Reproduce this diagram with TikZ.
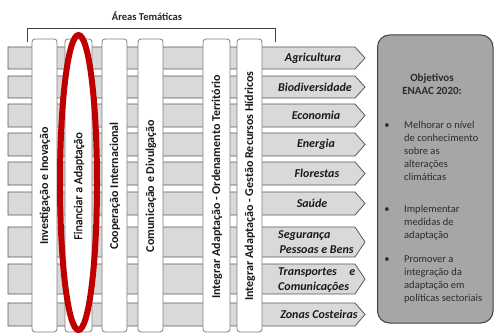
\documentclass[tikz,border=0pt]{standalone}
\usepackage{fontspec}
\setmainfont{Carlito}
\newfontfamily\medfont[FakeBold=1]{Carlito}
\begin{document}
\begin{tikzpicture}[x=1pt,y=-1pt,
  barshape/.style={fill=barfill,draw=bardraw,line width=0.8pt},
  colbox/.style={fill=white,draw=coldraw,line width=0.8pt,rounded corners=3pt},
  coltext/.style={rotate=90,inner sep=0pt,font=\fontsize{12}{14}\selectfont\bfseries,text=black!90},
  arrlabel/.style={inner sep=0pt,font=\fontsize{12}{15}\selectfont\bfseries\itshape,text=black!90},
  objtext/.style={inner sep=0pt,align=left,anchor=north west,font=\fontsize{10.5}{13}\selectfont,text=objcol},
  bulletmark/.style={inner sep=0pt,font=\fontsize{10.5}{13}\selectfont,text=objcol}]
\definecolor{barfill}{HTML}{D9D9D9}
\definecolor{bardraw}{HTML}{595959}
\definecolor{coldraw}{HTML}{7F7F7F}
\definecolor{objfill}{HTML}{A6A6A6}
\definecolor{objcol}{HTML}{2B2B2B}
\definecolor{ringred}{HTML}{C00000}
\useasboundingbox[fill=white] (0,0) rectangle (494,334);
% bracket and title
\draw[line width=0.8pt,draw=black!75] (27,42) -- (27,28) -- (275,28) -- (275,42);
\node[inner sep=0pt,font=\fontsize{10.5}{12}\selectfont\bfseries,text=black!85] (title) at (147,16) {Áreas Temáticas};
% row bars
\foreach \t/\b in {47/69,76/98,104/127,133/156,162/185,192/215,227/257,264/294,303/326}{
  \draw[barshape] (8,\t) -- (355,\t) -- (365,{(\t+\b)/2}) -- (355,\b) -- (8,\b) -- cycle;
}
% columns
\draw[colbox] (32,39) rectangle (57,332);
\draw[colbox] (65,39) rectangle (92,332);
\draw[colbox] (102,39) rectangle (127,332);
\draw[colbox] (138,39) rectangle (163,332);
\draw[colbox] (203,39) rectangle (230,332);
\draw[colbox] (237,39) rectangle (262,332);
\node[coltext] (c1) at (45,186) {Investigação e Inovação};
\node[coltext,font=\fontsize{12}{14}\medfont] (c2) at (79,186) {Financiar a Adaptação};
\node[coltext] (c3) at (115,186) {Cooperação Internacional};
\node[coltext] (c4) at (151,186) {Comunicação e Divulgação};
\node[coltext] (c5) at (217,187) {Integrar Adaptação - Ordenamento Território};
\node[coltext] (c6) at (250,186) {Integrar Adaptação - Gestão Recursos Hídricos};
% arrow labels
\node[arrlabel] (a1) at (313,58) {Agricultura};
\node[arrlabel] (a2) at (315,87) {Biodiversidade};
\node[arrlabel] (a3) at (316,115.5) {Economia};
\node[arrlabel] (a4) at (316,144.5) {Energia};
\node[arrlabel] (a5) at (317,173.5) {Florestas};
\node[arrlabel] (a6) at (312,203.5) {Saúde};
\node[arrlabel,align=left,anchor=west] (a7) at (278,242.5) {Segurança\\\hspace*{1.5pt}Pessoas e Bens};
\node[arrlabel,align=left,anchor=west] (a8) at (278,280) {\makebox[77pt][s]{Transportes\hfill e}\\Comunicações};
\node[arrlabel] (a9) at (319,314.5) {Zonas Costeiras};
% objectives box
\draw[fill=objfill,draw=black!75,line width=1pt,rounded corners=12pt] (377.5,35) rectangle (493,323);
\node[inner sep=0pt,align=center,font=\fontsize{11}{12.5}\selectfont\bfseries,text=objcol] (ot) at (432,84) {Objetivos\\ENAAC 2020:};
\node[bulletmark] (b1) at (387,126) {•};
\node[bulletmark] (b2) at (387,210) {•};
\node[bulletmark] (b3) at (387,260) {•};
\node[objtext] (t1) at (404,120.5) {\rule{0pt}{8pt}Melhorar o nível\\de conhecimento\\sobre as\\alterações\\climáticas};
\node[objtext] (t2) at (404,204.5) {\rule{0pt}{8pt}Implementar\\medidas de\\adaptação};
\node[objtext] (t3) at (404,254.5) {\rule{0pt}{8pt}Promover a\\integração da\\adaptação em\\políticas sectoriais};
% red ellipse
\draw[draw=ringred,line width=6pt] (78.5,182.5) ellipse [x radius=18.5, y radius=147.5];
\end{tikzpicture}
\end{document}
